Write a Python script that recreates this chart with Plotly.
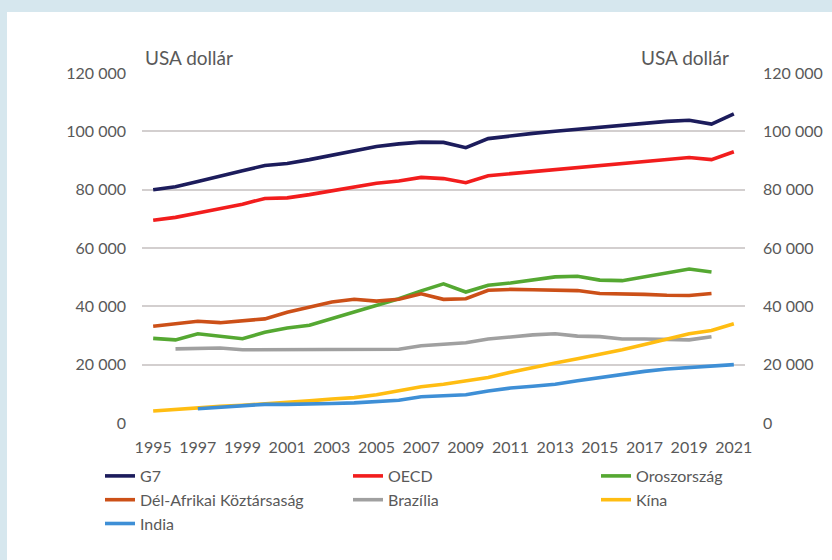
import plotly.graph_objects as go

years = list(range(1995, 2022))

g7 = [80000, 81000, 82800, 84500, 86500, 88300, 89000, 90300, 91800, 93500, 94800, 95700, 96300, 96200,
      94400, 97500, 98500, 99300, 100000, 100700, 101300, 101800, 102800, 103400, 103800, 102500, 106000]
oecd = [69500, 70500, 72000, 73500, 75000, 77000, 77200, 78300, 79500, 81000, 82200, 83000, 84200, 83800,
        82400, 84800, 85500, 86000, 86800, 87500, 88300, 88800, 89800, 90500, 91000, 90300, 93000]
russia = [29000, 28500, 30600, 29700, 28900, 31100, 32600, 33500, 35700, 38000, 40300, 42600, 45300, 47700,
          44900, 47200, 48000, 49200, 50100, 50300, 49000, 48800, 50100, 51500, 52800, 51800, None]
south_africa = [33200, 34200, 34900, 34400, 34900, 35700, 38000, 39700, 41500, 42400, 41800, 42400, 44300, 42400,
                42600, 45500, 45800, 45700, 45500, 45400, 44400, 44400, 44100, 43800, 43700, 44400, None]
brazil = [None, 25400, 25700, 25700, 25100, 25100, 25400, 25100, 25100, 25100, 25300, 25300, 26500, 27100,
          27500, 28800, 29600, 30200, 30600, 29800, 29600, 28800, 28800, 28700, 28500, 29600, None]
china = [4100, 4700, 5300, 5700, 6100, 6500, 7000, 7600, 8200, 8700, 9700, 11000, 12400, 13300,
         14300, 15600, 17400, 19100, 20600, 22000, 23500, 25100, 26900, 28700, 30600, 31700, 34000]
india = [None, None, 4900, 5500, 6100, 6400, 6400, 6400, 6700, 6900, 7200, 7800, 9000, 9500,
         9700, 11000, 12000, 12600, 13300, 14500, 15600, 16800, 17700, 18500, 18900, 19300, 20000]

series_names = ["G7", "OECD", "Oroszország", "Dél-Afrikai Köztársaság", "Brazília", "Kína", "India"]
series_values = [g7, oecd, russia, south_africa, brazil, china, india]
colors = ["#1c1c5c", "#f21d1d", "#55a832", "#cc5018", "#a0a0a0", "#ffbd12", "#3e8fd6"]

x_tick_years = list(range(1995, 2022, 2))
y_tick_vals = [0, 20000, 40000, 60000, 80000, 100000, 120000]
y_tick_text = ["0", "20 000", "40 000", "60 000", "80 000", "100 000", "120 000"]
unit_label = "USA dollár"

FONT = "Lato"
TXT = "#595959"

fig = go.Figure()
for name, vals, col in zip(series_names, series_values, colors):
    fig.add_trace(go.Scatter(x=years, y=vals, name=name, mode="lines",
                             line=dict(color=col, width=3.6), connectgaps=False))
# invisible trace to activate right-hand axis
fig.add_trace(go.Scatter(x=[years[0]], y=[None], yaxis="y2", showlegend=False,
                         hoverinfo="skip", mode="lines"))

L, R, T, B = 142, 87, 73, 137
W, H = 832, 560
pw, ph = W - L - R, H - T - B

def px_x(px):
    return (px - L) / pw

def px_y(py):
    return (H - B - py) / ph

fig.update_layout(
    width=W, height=H,
    margin=dict(l=L, r=R, t=T, b=B, pad=0, autoexpand=False),
    paper_bgcolor="#d6e7ee",
    plot_bgcolor="rgba(0,0,0,0)",
    font=dict(family=FONT, size=16, color=TXT),
    xaxis=dict(range=[1994.5, 2021.5], tickvals=x_tick_years, ticktext=[str(y) for y in x_tick_years],
               showgrid=False, zeroline=False, showline=False, ticks="", ticklabelstandoff=13,
               tickfont=dict(size=16, color=TXT)),
    yaxis=dict(range=[0, 120000], tickvals=y_tick_vals, ticktext=y_tick_text, showgrid=True,
               gridcolor="#d3cfcf", gridwidth=1.5, zeroline=False, showline=False, ticks="",
               ticklabelstandoff=15, tickfont=dict(size=16, color=TXT)),
    yaxis2=dict(range=[0, 120000], tickvals=y_tick_vals, ticktext=y_tick_text, overlaying="y", side="right",
                showgrid=False, zeroline=False, showline=False, ticks="", ticklabelstandoff=17,
                tickfont=dict(size=16, color=TXT)),
    legend=dict(orientation="h", x=px_x(100), xanchor="left", y=px_y(459), yanchor="top",
                entrywidthmode="pixels", entrywidth=203, font=dict(size=16, color=TXT),
                bgcolor="rgba(0,0,0,0)", traceorder="normal"),
    showlegend=True,
    shapes=[dict(type="rect", xref="paper", yref="paper", x0=px_x(7), x1=2.0,
                 y0=-2.0, y1=px_y(12), fillcolor="white", line=dict(width=0), layer="below")],
    annotations=[
        dict(text=unit_label, xref="paper", yref="paper", x=px_x(143), y=px_y(58), xanchor="left",
             yanchor="middle", showarrow=False, font=dict(size=19, color=TXT)),
        dict(text=unit_label, xref="paper", yref="paper", x=px_x(731), y=px_y(58), xanchor="right",
             yanchor="middle", showarrow=False, font=dict(size=19, color=TXT)),
    ],
)

fig.write_html("out.html")
